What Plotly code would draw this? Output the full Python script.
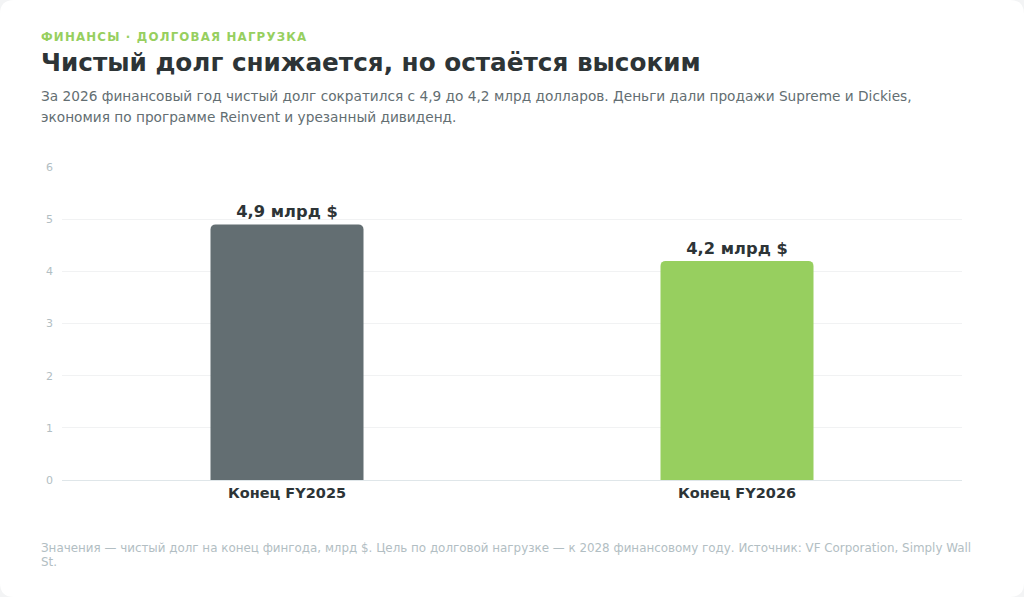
import plotly.graph_objects as go

# Data
categories = ["Конец FY2025", "Конец FY2026"]
net_debt = [4.9, 4.2]  # млрд $
bar_colors = ["#636e72", "#97cf5f"]
labels = [f"{v:.1f}".replace(".", ",") + " млрд $" for v in net_debt]

W, H = 1024, 597
ML, MR, MT, MB = 62, 62, 167, 117
PW, PH = W - ML - MR, H - MT - MB


def px(x):
    return (x - ML) / PW


def py(y):
    return (H - MB - y) / PH


FONT = "DejaVu Sans"

fig = go.Figure(go.Bar(
    x=categories,
    y=net_debt,
    marker=dict(color=bar_colors, cornerradius=5, line=dict(width=0)),
    text=labels,
    textposition="outside",
    textfont=dict(family=FONT, size=16.3, color="#2d3436", weight="bold"),
    cliponaxis=False,
    hoverinfo="skip",
))

# white rounded card on a grey page
r = 14
x0, x1, y0, y1 = px(0), px(W), py(0), py(H)
rx, ry = r / PW, r / PH
card = (f"M {x0+rx},{y0} L {x1-rx},{y0} Q {x1},{y0} {x1},{y0-ry} "
        f"L {x1},{y1+ry} Q {x1},{y1} {x1-rx},{y1} L {x0+rx},{y1} "
        f"Q {x0},{y1} {x0},{y1+ry} L {x0},{y0-ry} Q {x0},{y0} {x0+rx},{y0} Z")
fig.add_shape(type="path", path=card, xref="paper", yref="paper",
              fillcolor="white", line=dict(width=0), layer="below")

kicker = "\u200a".join("ФИНАНСЫ · ДОЛГОВАЯ НАГРУЗКА")
texts = [
    (37, kicker, 11.8, "#97cf5f", "bold"),
    (63, "Чистый долг снижается, но остаётся высоким", 24.7, "#2d3436", "bold"),
    (96, "За 2026 финансовый год чистый долг сократился с 4,9 до 4,2 млрд долларов. "
         "Деньги дали продажи Supreme и Dickies,", 13.7, "#636e72", "normal"),
    (117, "экономия по программе Reinvent и урезанный дивиденд.", 13.7, "#636e72", "normal"),
    (548, "Значения — чистый долг на конец фингода, млрд $. Цель по долговой нагрузке — "
          "к 2028 финансовому году. Источник: VF Corporation, Simply Wall",
     11.9, "#b2bec3", "normal"),
    (562, "St.", 11.9, "#b2bec3", "normal"),
]
for y, t, size, color, weight in texts:
    fig.add_annotation(
        x=px(39), y=py(y), xref="paper", yref="paper", xanchor="left", yanchor="middle",
        text=t, showarrow=False, align="left",
        font=dict(family=FONT, size=size, color=color, weight=weight),
    )

fig.update_layout(
    width=W, height=H,
    margin=dict(l=ML, r=MR, t=MT, b=MB),
    paper_bgcolor="#f3f4f5",
    plot_bgcolor="rgba(0,0,0,0)",
    bargap=0.66,
    showlegend=False,
    font=dict(family=FONT),
    xaxis=dict(
        showgrid=False, showline=True, linecolor="#dfe6e9", linewidth=1,
        tickfont=dict(family=FONT, size=14.5, color="#2d3436", weight="bold"),
        ticks="", fixedrange=True,
    ),
    yaxis=dict(
        range=[0, 6], dtick=1, showgrid=True, gridcolor="#f1f2f3", gridwidth=1,
        zeroline=False, showline=False,
        tickfont=dict(family=FONT, size=11, color="#b2bec3"),
        ticklabelstandoff=8, fixedrange=True,
    ),
)

fig.write_html("out.html", config={"displayModeBar": False},
               post_script="document.body.style.margin='0';")
